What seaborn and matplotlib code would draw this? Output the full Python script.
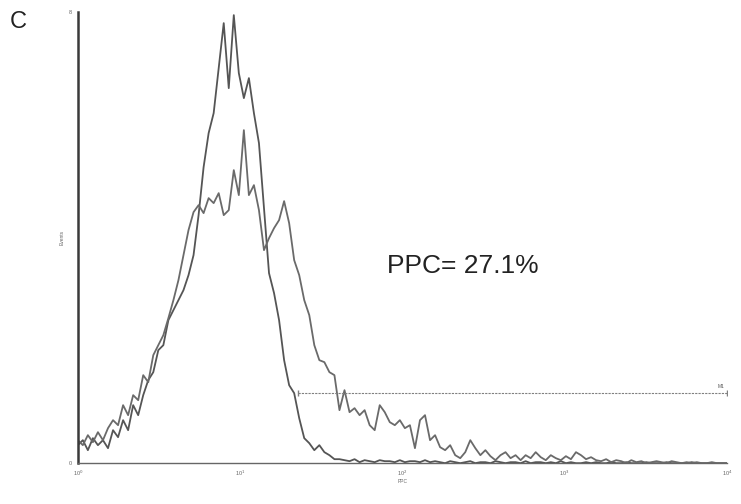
import numpy as np
import pandas as pd
import matplotlib
matplotlib.use("Agg")
import matplotlib.pyplot as plt
import seaborn as sns

# Channel centres on the log PPC axis (130 channels across four decades)
channel_log = np.linspace(0, 4, 130)

# Events per channel, control sample (tall narrow peak)
control_counts = [
    18, 23, 13, 25, 18, 23, 15, 33, 26, 43,
    33, 58, 48, 68, 83, 91, 113, 118, 143, 153,
    163, 173, 188, 208, 248, 296, 330, 350, 395, 440,
    375, 448, 390, 365, 385, 350, 320, 255, 190, 170,
    143, 103, 78, 70, 45, 25, 20, 13, 18, 11,
    8, 4, 4, 3, 2, 4, 1, 3, 2, 1,
    3, 2, 2, 1, 3, 1, 2, 2, 1, 3,
    1, 2, 1, 0, 2, 1, 0, 1, 2, 0,
    1, 1, 0, 2, 1, 0, 1, 1, 0, 2,
    0, 1, 1, 0, 1, 0, 2, 0, 1, 0,
    0, 1, 0, 1, 0, 0, 1, 0, 0, 1,
    0, 0, 0, 1, 0, 0, 0, 1, 0, 0,
    0, 0, 1, 0, 0, 0, 0, 0, 0, 0,
]

# Events per channel, stained sample (broad peak with long tail)
stained_counts = [
    23, 18, 28, 21, 31, 23, 35, 43, 38, 58,
    48, 68, 63, 88, 81, 108, 118, 128, 145, 163,
    183, 208, 233, 251, 258, 250, 265, 260, 270, 248,
    253, 293, 268, 333, 268, 278, 253, 213, 225, 235,
    243, 262, 240, 203, 188, 163, 148, 118, 103, 101,
    91, 88, 53, 73, 51, 55, 48, 53, 38, 33,
    58, 51, 41, 38, 43, 35, 38, 15, 43, 48,
    23, 28, 16, 13, 18, 8, 5, 11, 23, 15,
    8, 13, 7, 3, 8, 11, 5, 8, 3, 8,
    5, 11, 6, 3, 8, 5, 3, 7, 4, 11,
    8, 4, 6, 3, 2, 4, 1, 3, 2, 0,
    3, 1, 2, 0, 1, 2, 1, 0, 2, 1,
    0, 1, 0, 1, 0, 0, 1, 0, 0, 0,
]

# Marker gate M1 (PPC range) and its height on the count axis
gate_range = [22.7, 10000]
gate_level = 70
ppc_label = "PPC= 27.1%"

x_tick_values = [1, 10, 100, 1000, 10000]
x_tick_labels = ["10$^0$", "10$^1$", "10$^2$", "10$^3$", "10$^4$"]
y_max = 451

sns.set_style("white")
plt.rcParams["font.family"] = ["Liberation Sans", "DejaVu Sans"]

intensity = 10 ** channel_log
df = pd.concat([
    pd.DataFrame({"PPC": intensity, "Events": control_counts, "sample": "control"}),
    pd.DataFrame({"PPC": intensity, "Events": stained_counts, "sample": "stained"}),
])

fig = plt.figure(figsize=(7.41, 5.04), dpi=100)
ax = fig.add_axes([0.105, 0.081, 0.876, 0.895])

sns.lineplot(data=df, x="PPC", y="Events", hue="sample",
             palette={"control": "#555555", "stained": "#6a6a6a"},
             linewidth=1.3, legend=False, ax=ax, estimator=None, sort=False)

ax.set_xscale("log")
ax.set_xlim(1, 10000)
ax.set_ylim(0, y_max)

# Gate marker
ax.hlines(gate_level, gate_range[0], gate_range[1], colors="#808080",
          linewidth=0.8, linestyles=(0, (2, 1)))
ax.plot(gate_range, [gate_level, gate_level], linestyle="none",
        marker="|", markersize=4, color="#808080")
ax.text(gate_range[1] * 0.97, gate_level + 4, "M1", fontsize=3.5,
        color="#555555", ha="right", va="bottom")

ax.text(10 ** 2.37, 197, ppc_label, fontsize=19, color="#222222",
        ha="center", va="center")

# Axes styling
for side in ("top", "right"):
    ax.spines[side].set_visible(False)
ax.spines["left"].set_color("#3a3a3a")
ax.spines["left"].set_linewidth(1.8)
ax.spines["bottom"].set_color("#666666")
ax.spines["bottom"].set_linewidth(1.0)

ax.set_xticks(x_tick_values)
ax.set_xticklabels(x_tick_labels, fontsize=4, color="#666666")
ax.set_yticks([0, 215, y_max])
ax.set_yticklabels(["0", "", "8"], fontsize=4, color="#666666")
ax.tick_params(axis="both", which="major", direction="out", length=3,
               width=0.8, color="#666666", pad=1)
ax.tick_params(axis="x", which="minor", direction="out", length=2,
               width=0.6, color="#777777")
ax.set_xlabel("PPC", fontsize=3.5, color="#666666", labelpad=1)
ax.set_ylabel("Events", fontsize=3.5, color="#666666", labelpad=3)

fig.text(18 / 741, 1 - 22 / 504, "C", fontsize=17, color="#222222",
         ha="center", va="center")

fig.savefig("out.png", dpi=100)
